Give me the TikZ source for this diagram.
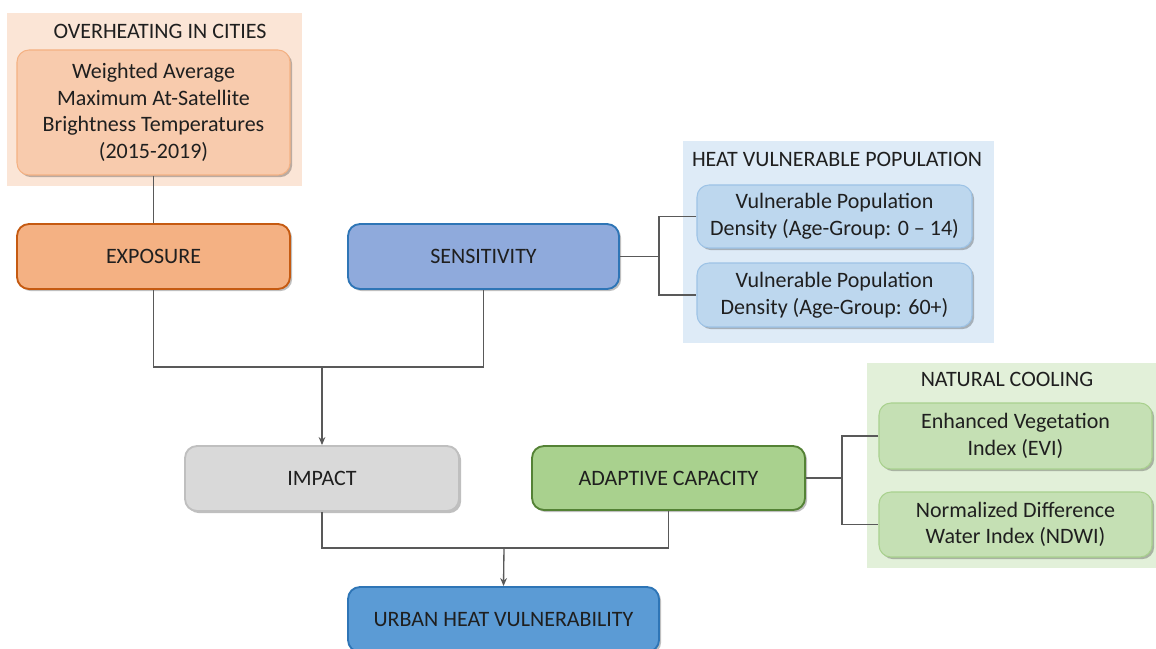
\documentclass[tikz,border=0pt]{standalone}
\usepackage{fontspec}
\setmainfont{Carlito}
\usetikzlibrary{arrows.meta,shadows}
\definecolor{txt}{HTML}{1F1F1F}
\definecolor{lnk}{HTML}{595959}
\definecolor{ohpan}{HTML}{FBE5D6}
\definecolor{ohfill}{HTML}{F8CBAD}
\definecolor{ohdraw}{HTML}{F4B183}
\definecolor{exfill}{HTML}{F4B183}
\definecolor{exdraw}{HTML}{C55A11}
\definecolor{sefill}{HTML}{8FAADC}
\definecolor{sedraw}{HTML}{2E75B6}
\definecolor{hvpan}{HTML}{DEEBF7}
\definecolor{hvfill}{HTML}{BDD7EE}
\definecolor{hvdraw}{HTML}{9DC3E6}
\definecolor{imfill}{HTML}{D9D9D9}
\definecolor{imdraw}{HTML}{BFBFBF}
\definecolor{adfill}{HTML}{A9D18E}
\definecolor{addraw}{HTML}{548235}
\definecolor{ncpan}{HTML}{E2F0D9}
\definecolor{ncfill}{HTML}{C5E0B4}
\definecolor{ncdraw}{HTML}{A9D18E}
\definecolor{urfill}{HTML}{5B9BD5}
\definecolor{urdraw}{HTML}{2E75B6}
\tikzset{
  box/.style={rounded corners=9pt, align=center, text=txt,
    font=\fontsize{16.5}{20}\selectfont,
    drop shadow={shadow xshift=1.6pt, shadow yshift=-1.6pt, fill=black, opacity=0.25}},
  mainbox/.style={box, line width=1.4pt},
  subbox/.style={box, line width=0.8pt},
  panel/.style={draw=none, inner sep=0pt},
  ptitle/.style={text=txt, font=\fontsize{16.5}{20}\selectfont},
  link/.style={draw=lnk, line width=1pt},
  arr/.style={link, -{Stealth[length=6pt,width=5pt]}}
}
\begin{document}
\begin{tikzpicture}[x=0.75pt,y=-0.75pt]
\useasboundingbox (0,0) rectangle (1156,649);
\clip (0,0) rectangle (1156,649);
% panels
\node[panel, fill=ohpan, minimum width=221.25pt, minimum height=129.75pt] (ohpanel) at (154.5,99.5) {};
\node[ptitle] (ohtitle) at (160,31) {OVERHEATING IN CITIES};
\node[panel, fill=hvpan, minimum width=233.25pt, minimum height=151.5pt] (hvpanel) at (838.5,242) {};
\node[ptitle] (hvtitle) at (837,159) {HEAT VULNERABLE POPULATION};
\node[panel, fill=ncpan, minimum width=216.75pt, minimum height=153.75pt] (ncpanel) at (1011.5,465.5) {};
\node[ptitle] (nctitle) at (1007,379) {NATURAL COOLING};
% sub boxes
\node[subbox, fill=ohfill, draw=ohdraw, minimum width=204.75pt, minimum height=93.75pt] (oh) at (153.5,112.5)
  {Weighted Average\\Maximum At-Satellite\\Brightness Temperatures\\(2015-2019)};
\node[subbox, fill=hvfill, draw=hvdraw, minimum width=206.25pt, minimum height=47.25pt] (v1) at (834.5,216.5)
  {Vulnerable Population\\Density (Age-Group: 0 – 14)};
\node[subbox, fill=hvfill, draw=hvdraw, minimum width=206.25pt, minimum height=48pt] (v2) at (834.5,295)
  {Vulnerable Population\\Density (Age-Group: 60+)};
\node[subbox, fill=ncfill, draw=ncdraw, minimum width=204.75pt, minimum height=49.5pt] (evi) at (1015.5,436)
  {Enhanced Vegetation\\Index (EVI)};
\node[subbox, fill=ncfill, draw=ncdraw, minimum width=204.75pt, minimum height=48.75pt] (ndwi) at (1015.5,524.5)
  {Normalized Difference\\Water Index (NDWI)};
% main boxes
\node[mainbox, fill=exfill, draw=exdraw, minimum width=204.75pt, minimum height=48.75pt] (exp) at (153.5,256.5) {EXPOSURE};
\node[mainbox, fill=sefill, draw=sedraw, minimum width=203.25pt, minimum height=48.75pt] (sen) at (483.5,256.5) {SENSITIVITY};
\node[mainbox, fill=imfill, draw=imdraw, minimum width=205.5pt, minimum height=48.75pt] (imp) at (322,478.5) {IMPACT};
\node[mainbox, fill=adfill, draw=addraw, minimum width=204.75pt, minimum height=48pt] (ada) at (668.5,478) {ADAPTIVE CAPACITY};
\node[mainbox, fill=urfill, draw=urdraw, minimum width=233.25pt, minimum height=48.75pt] (urb) at (503.5,619.5) {URBAN HEAT VULNERABILITY};
% junctions
\coordinate (j1) at (322,367);
\coordinate (j2) at (504,548);
\coordinate (b1) at (659,256.5);
\coordinate (b2) at (842,478);
% connectors
\draw[link] (oh.south) -- (exp.north);
\draw[link] (exp.south) |- (j1) -| (sen.south);
\draw[arr] (j1) -- (imp.north);
\draw[link] (sen.east) -- (b1);
\draw[link] (v1.west) -| (b1) |- (v2.west);
\draw[link] (imp.south) |- (j2) -| (ada.south);
\draw[arr] (j2) -- (urb.north);
\draw[link] (ada.east) -- (b2);
\draw[link] (evi.west) -| (b2) |- (ndwi.west);
\end{tikzpicture}
\end{document}
